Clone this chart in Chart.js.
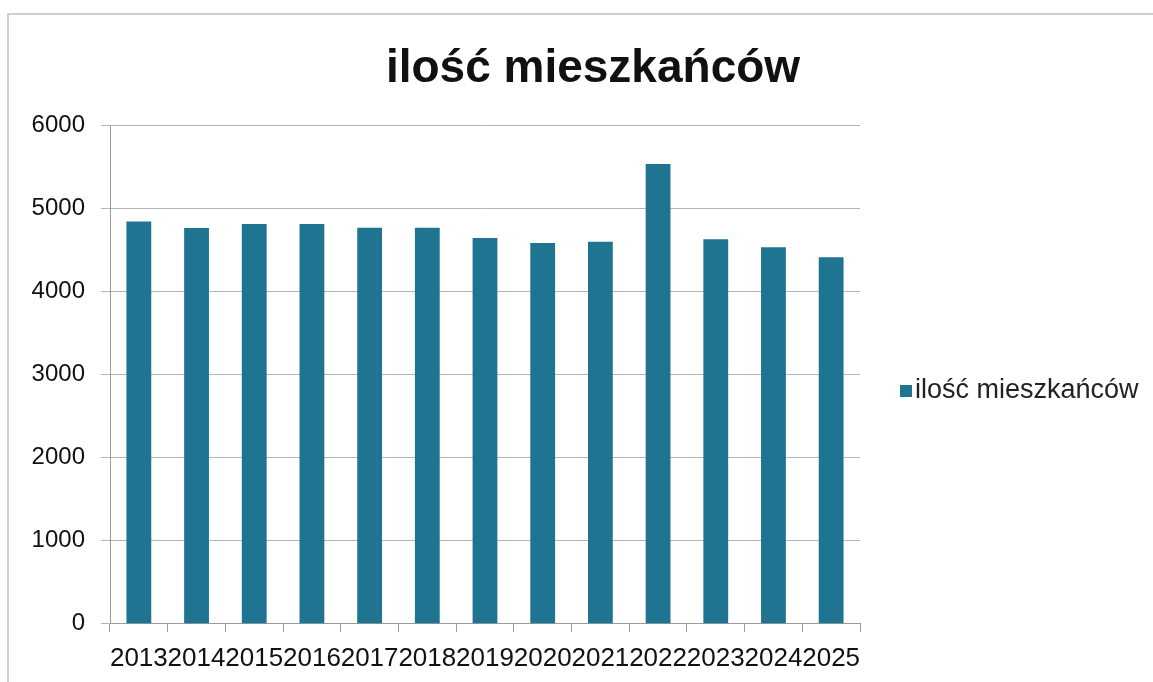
<!DOCTYPE html>
<html>
<head>
<meta charset="utf-8">
<script src="https://cdn.jsdelivr.net/npm/chart.js@4"></script>
<style>
  body { margin: 0; background: #fff; }
  #wrap { position: relative; width: 1153px; height: 682px; }
  #frame { position: absolute; left: 7px; top: 13px; right: 0; bottom: 0; border-left: 2px solid #cfcfcf; border-top: 2px solid #cfcfcf; pointer-events: none; }
  canvas { position: absolute; left: 0; top: 0; }
</style>
</head>
<body>
<div id="wrap">
  <canvas id="myChart" width="1153" height="682"></canvas>
  <div id="frame"></div>
</div>
<script>
const years = ["2013", "2014", "2015", "2016", "2017", "2018", "2019", "2020", "2021", "2022", "2023", "2024", "2025"];
const mieszkancy = [4840, 4760, 4810, 4810, 4765, 4765, 4640, 4580, 4595, 5530, 4625, 4530, 4410];
const yTicks = [0, 1000, 2000, 3000, 4000, 5000, 6000];
const seriesName = "ilość mieszkańców";
const barColor = "#1f7491";
const fontFam = "'Liberation Sans', Arial, sans-serif";

const ctx = document.getElementById("myChart");

// tytul i legenda rysowane recznie
const titleAndLegend = {
  id: "titleAndLegend",
  afterDraw(chart) {
    const c = chart.ctx;
    c.save();
    c.fillStyle = "#111";
    c.font = "bold 46px " + fontFam;
    c.textAlign = "center";
    c.textBaseline = "alphabetic";
    c.fillText(seriesName, 593, 82);

    const x = 900;
    const y = 391;
    c.fillStyle = barColor;
    c.fillRect(x, y - 6, 12, 12);
    c.fillStyle = "#222";
    c.font = "27px " + fontFam;
    c.textBaseline = "middle";
    c.textAlign = "left";
    c.fillText(chart.data.datasets[0].label, x + 15, y);
    c.restore();
  }
};

new Chart(ctx, {
  type: "bar",
  data: {
    labels: years,
    datasets: [
      {
        label: seriesName,
        data: mieszkancy,
        backgroundColor: barColor,
        barPercentage: 0.43,
        categoryPercentage: 1,
      },
    ],
  },
  options: {
    responsive: false,
    animation: false,
    layout: {
      padding: { left: 0, right: 293, top: 125, bottom: -3 },
    },
    plugins: {
      legend: { display: false },
      tooltip: { enabled: false },
      title: { display: false },
    },
    scales: {
      x: {
        grid: {
          drawOnChartArea: false,
          drawTicks: true,
          tickLength: 8,
          color: "#9a9a9a",
        },
        border: { color: "#9a9a9a" },
        ticks: {
          color: "#111",
          padding: 11,
          maxRotation: 0,
          autoSkip: false,
          font: { family: fontFam, size: 26 },
        },
      },
      y: {
        min: 0,
        max: 6000,
        afterFit(scale) {
          scale.width = 110;
        },
        afterBuildTicks(scale) {
          scale.ticks = yTicks.map((v) => ({ value: v }));
        },
        grid: {
          color: "#b5b5b5",
          tickLength: 9,
        },
        border: { color: "#9a9a9a" },
        ticks: {
          color: "#111",
          padding: 16,
          callback: (v) => String(v),
          font: { family: fontFam, size: 24 },
        },
      },
    },
  },
  plugins: [titleAndLegend],
});
</script>
</body>
</html>
